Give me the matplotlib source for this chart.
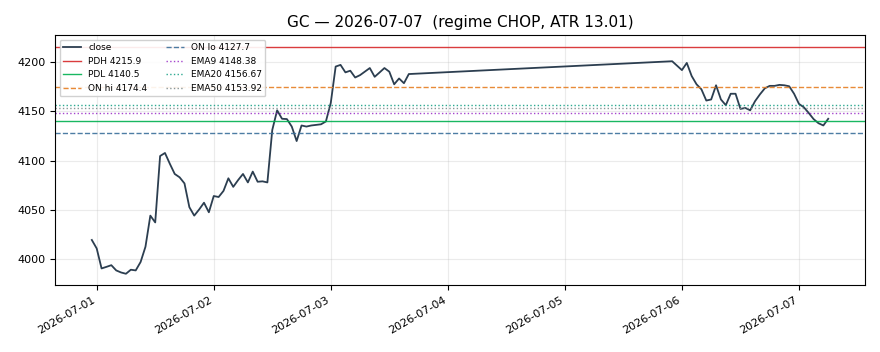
import numpy as np
import pandas as pd
import matplotlib
matplotlib.use("Agg")
import matplotlib.pyplot as plt
import matplotlib.dates as mdates

# hourly closes, first session block (starts 2026-06-30 23:00)
close_a = [4019.6, 4011.0, 3990.7, 3992.3, 3994.0, 3988.7, 3986.6, 3985.3,
           3989.4, 3988.7, 3997.2, 4012.7, 4044.3, 4037.4, 4104.8, 4107.9,
           4096.9, 4086.6, 4083.2, 4077.0, 4052.9, 4044.3, 4050.5, 4057.4,
           4047.7, 4064.2, 4063.2, 4069.4, 4082.2, 4073.5, 4080.4, 4086.6,
           4078.0, 4089.0, 4078.7, 4079.1, 4078.0, 4131.2, 4151.2, 4142.6,
           4142.3, 4134.7, 4120.0, 4135.8, 4134.7, 4135.8, 4136.4, 4137.0,
           4139.9, 4158.8, 4195.6, 4197.3, 4189.7, 4191.4, 4184.5, 4186.9,
           4190.5, 4194.1, 4185.2, 4189.6, 4194.1, 4190.4, 4177.6, 4183.5,
           4178.7, 4188.0]
start_a = "2026-06-30 23:00"

# second block, after the gap (starts 2026-07-06 00:00)
close_b = [4192.0, 4199.3, 4186.0, 4177.6, 4172.5, 4161.1, 4162.2, 4176.6,
           4162.2, 4156.4, 4168.0, 4168.0, 4152.6, 4153.6, 4151.2, 4160.5,
           4167.4, 4173.5, 4176.0, 4176.0, 4177.0, 4176.6, 4175.6, 4168.0,
           4157.7, 4154.3, 4148.5, 4142.3, 4138.1, 4135.8, 4142.6]
start_b = "2026-07-06 00:00"
# single print before the reopen
gap_time = "2026-07-05 22:00"
gap_close = 4201.0

levels = [("PDH", 4215.9), ("PDL", 4140.5), ("ON hi", 4174.4),
          ("ON lo", 4127.7), ("EMA9", 4148.38), ("EMA20", 4156.67),
          ("EMA50", 4153.92)]
level_styles = {
    "PDH": dict(color="#d62728", ls="-"),
    "PDL": dict(color="#00b050", ls="-"),
    "ON hi": dict(color="#e67e22", ls="--"),
    "ON lo": dict(color="#3a6f9a", ls="--"),
    "EMA9": dict(color="#9b30c8", ls=":"),
    "EMA20": dict(color="#16a085", ls=":"),
    "EMA50": dict(color="#7f8c8d", ls=":"),
}


def main():
    t_a = pd.date_range(start_a, periods=len(close_a), freq="h")
    t_b = pd.date_range(start_b, periods=len(close_b), freq="h")
    times = list(t_a) + [pd.Timestamp(gap_time)] + list(t_b)
    closes = close_a + [gap_close] + close_b

    fig, ax = plt.subplots(figsize=(8.8, 3.52), dpi=100)
    fig.subplots_adjust(left=0.0625, right=0.983, top=0.9, bottom=0.19)

    ax.plot(times, closes, color="#2c3e50", lw=1.3, label="close")
    for name, val in levels:
        st = level_styles[name]
        lbl = "%s %s" % (name, ("%.1f" % val) if name in ("PDH", "PDL", "ON hi", "ON lo") else ("%.2f" % val))
        ax.axhline(val, color=st["color"], ls=st["ls"], lw=1.0, alpha=0.9,
                   label=lbl)

    ax.set_title("GC \u2014 2026-07-07  (regime CHOP, ATR 13.01)", fontsize=11)
    ax.grid(True, alpha=0.25)
    ax.xaxis.set_major_locator(mdates.DayLocator())
    ax.xaxis.set_major_formatter(mdates.DateFormatter("%Y-%m-%d"))
    ax.tick_params(labelsize=8)
    for lab in ax.get_xticklabels():
        lab.set_rotation(30)
        lab.set_ha("right")
    ax.legend(loc="upper left", ncol=2, fontsize=6.5, framealpha=0.9)
    fig.savefig("out.png", dpi=100)


if __name__ == "__main__":
    main()
